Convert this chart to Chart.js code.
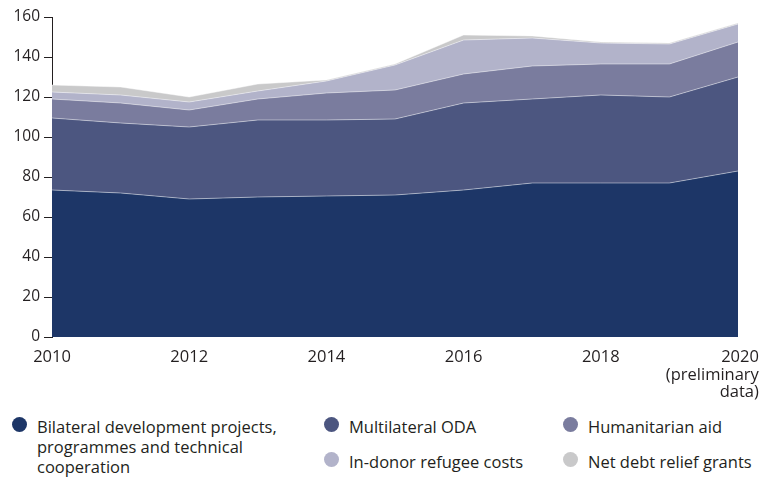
<!DOCTYPE html>
<html>
<head>
<meta charset="utf-8">
<script src="https://cdn.jsdelivr.net/npm/chart.js@4.4.1/dist/chart.umd.min.js"></script>
<style>
  html, body { margin: 0; padding: 0; background: #fff; }
  body { width: 774px; height: 478px; position: relative; overflow: hidden; font-family: "Open Sans", sans-serif; color: #231f20; }
  #chartBox { position: absolute; left: 0; top: 0; width: 774px; height: 400px; }
  .legend-item { position: absolute; font-size: 16.5px; line-height: 20px; }
  .legend-item .dot { position: absolute; left: -25px; top: 0px; width: 15px; height: 15px; border-radius: 50%; }
</style>
</head>
<body>
<div id="chartBox"><canvas id="odaChart"></canvas></div>
<div id="legend"></div>
<script>
const years = [2010, 2011, 2012, 2013, 2014, 2015, 2016, 2017, 2018, 2019, 2020];
const xTickLabels = ["2010", "", "2012", "", "2014", "", "2016", "", "2018", "", ["2020", "(preliminary", "data)"]];

// stacked components, read layer by layer
const bilateral = [73.5, 72, 69, 70, 70.5, 71, 73.5, 77, 77, 77, 83];
const multilateral = [36, 35, 36, 38.5, 38, 38, 43.5, 42, 44, 43, 47];
const humanitarian = [9.5, 10, 8.5, 10.5, 13.5, 14.5, 14.5, 16.5, 15.5, 16.5, 17.5];
const refugeeCosts = [3.5, 4, 4, 4, 6, 12.5, 17, 14, 10.5, 10, 9];
const debtRelief = [3.5, 4, 2.5, 3.5, 0.5, 0.5, 2.5, 1, 0.5, 0.5, 0.5];

const seriesNames = [
    "Bilateral development projects,\nprogrammes and technical\ncooperation",
    "Multilateral ODA",
    "Humanitarian aid",
    "In-donor refugee costs",
    "Net debt relief grants",
];
const seriesColors = ["#1d3667", "#4c5680", "#7a7c9e", "#b2b3ca", "#c9c9ca"];
const seriesData = [bilateral, multilateral, humanitarian, refugeeCosts, debtRelief];

const textColor = "#231f20";
const fontFamily = "'Open Sans', sans-serif";

// x labels drawn by hand so the last one can stack right-aligned lines
const xLabelPlugin = {
    id: "xLabels",
    afterDraw(chart) {
        const ctx = chart.ctx;
        const xScale = chart.scales.x;
        const baseY = chart.chartArea.bottom + 25;
        ctx.save();
        ctx.fillStyle = textColor;
        ctx.font = "16.5px " + fontFamily;
        ctx.textBaseline = "alphabetic";
        xTickLabels.forEach((label, i) => {
            if (!label) return;
            const x = xScale.getPixelForValue(i);
            if (Array.isArray(label)) {
                const right = x + ctx.measureText(label[0]).width / 2 + 2;
                ctx.textAlign = "right";
                label.forEach((line, j) => ctx.fillText(line, right, baseY + j * 17.5));
            } else {
                ctx.textAlign = "center";
                ctx.fillText(label, x, baseY);
            }
        });
        ctx.restore();
    },
};

const datasets = seriesData.map((values, i) => ({
    label: seriesNames[i],
    data: values,
    backgroundColor: seriesColors[i],
    borderColor: "rgba(255, 255, 255, 0.45)",
    borderWidth: 1,
    pointRadius: 0,
    tension: 0,
    fill: i === 0 ? "origin" : "-1",
}));

new Chart(document.getElementById("odaChart"), {
    type: "line",
    data: { labels: years, datasets: datasets },
    plugins: [xLabelPlugin],
    options: {
        responsive: true,
        maintainAspectRatio: false,
        animation: false,
        layout: { padding: { top: 17, right: 36, left: 0, bottom: 0 } },
        plugins: {
            legend: { display: false },
            tooltip: { enabled: false },
        },
        scales: {
            x: {
                offset: false,
                grid: { display: false },
                border: { display: false },
                ticks: { display: false },
                afterFit(scale) {
                    scale.height = 63;
                },
            },
            y: {
                stacked: true,
                min: 0,
                max: 160,
                ticks: {
                    stepSize: 20,
                    color: textColor,
                    padding: 4,
                    font: { family: fontFamily, size: 15.5 },
                },
                grid: {
                    drawOnChartArea: false,
                    drawTicks: true,
                    tickLength: 8,
                    color: "#231f20",
                    lineWidth: 1,
                },
                border: { display: true, color: "#231f20", width: 1 },
                afterFit(scale) {
                    scale.width = 52;
                },
            },
        },
    },
});

// legend laid out in three columns under the chart
const legendSpots = [
    { left: 37, top: 417 },
    { left: 349, top: 417 },
    { left: 588, top: 417 },
    { left: 349, top: 452 },
    { left: 588, top: 452 },
];
const legendBox = document.getElementById("legend");
seriesNames.forEach((name, i) => {
    const item = document.createElement("div");
    item.className = "legend-item";
    item.style.left = legendSpots[i].left + "px";
    item.style.top = legendSpots[i].top + "px";
    item.innerHTML = '<span class="dot" style="background:' + seriesColors[i] + '"></span>' +
        name.split("\n").join("<br>");
    legendBox.appendChild(item);
});
</script>
</body>
</html>
